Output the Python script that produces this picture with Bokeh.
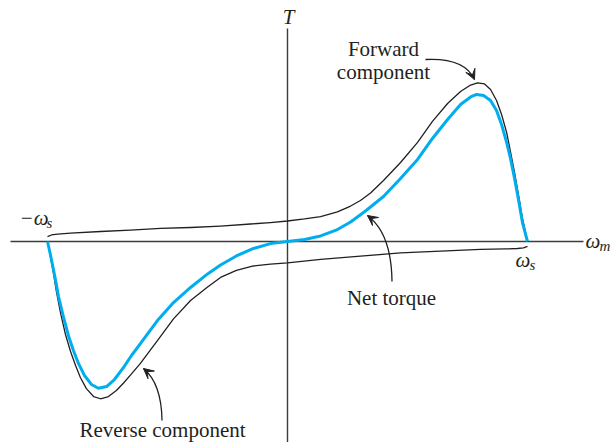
from bokeh.plotting import figure
from bokeh.models import Range1d, Label, Arrow, VeeHead
from bokeh.embed import file_html
from bokeh.resources import INLINE

# ---- data: speed normalised to synchronous speed, torque normalised to forward peak ----
net_w = [-1.000, -0.988, -0.971, -0.954, -0.933, -0.913, -0.892, -0.871, -0.846, -0.817,
         -0.788, -0.754, -0.721, -0.683, -0.650, -0.613, -0.542, -0.475, -0.404, -0.333,
         -0.279, -0.213, -0.142, -0.071, 0.000, 0.071, 0.138, 0.208, 0.263, 0.325,
         0.400, 0.471, 0.542, 0.604, 0.667, 0.721, 0.763, 0.788, 0.817, 0.846,
         0.871, 0.892, 0.913, 0.929, 0.946, 0.963, 0.979, 1.000]
net_T = [0.000, -0.082, -0.208, -0.346, -0.478, -0.591, -0.686, -0.767, -0.843, -0.899,
         -0.923, -0.912, -0.868, -0.792, -0.717, -0.642, -0.497, -0.384, -0.289, -0.204,
         -0.148, -0.091, -0.044, -0.013, 0.000, 0.013, 0.035, 0.075, 0.123, 0.192,
         0.283, 0.396, 0.516, 0.648, 0.767, 0.862, 0.909, 0.925, 0.918, 0.887,
         0.824, 0.736, 0.623, 0.522, 0.396, 0.258, 0.119, 0.000]

fwd_w = [-1.000, -0.983, -0.958, -0.904, -0.779, -0.654, -0.529, -0.404, -0.279, -0.154,
         -0.071, 0.000, 0.071, 0.138, 0.208, 0.263, 0.304, 0.346, 0.400, 0.471,
         0.542, 0.604, 0.667, 0.721, 0.763, 0.792, 0.821, 0.846, 0.871, 0.892,
         0.913, 0.929, 0.946, 0.963, 0.979, 1.000]
fwd_T = [0.031, 0.041, 0.047, 0.053, 0.063, 0.072, 0.082, 0.088, 0.097, 0.110,
         0.119, 0.129, 0.142, 0.157, 0.186, 0.223, 0.258, 0.305, 0.384, 0.497,
         0.623, 0.755, 0.868, 0.943, 0.984, 0.998, 0.991, 0.956, 0.887, 0.799,
         0.686, 0.566, 0.434, 0.289, 0.145, 0.000]

rev_w = [-1.000, -0.988, -0.975, -0.963, -0.946, -0.925, -0.904, -0.883, -0.863, -0.838,
         -0.808, -0.779, -0.746, -0.713, -0.683, -0.650, -0.613, -0.542, -0.475, -0.404,
         -0.333, -0.279, -0.213, -0.142, -0.071, 0.000, 0.138, 0.304, 0.471, 0.638,
         0.804, 0.908, 0.958, 0.983, 1.000]
rev_T = [0.000, -0.094, -0.201, -0.314, -0.447, -0.585, -0.692, -0.780, -0.855, -0.925,
         -0.975, -0.989, -0.975, -0.937, -0.890, -0.833, -0.767, -0.623, -0.487, -0.371,
         -0.286, -0.226, -0.182, -0.154, -0.142, -0.134, -0.113, -0.092, -0.072, -0.060,
         -0.050, -0.047, -0.044, -0.040, -0.031]

# ---- layout ----
W, H = 614, 442
OX, OY = 287, 241          # page position of the origin
SX, SY = 240.0, 159.0      # pixels per unit

def X(px):
    return (px - OX) / SX

def Y(py):
    return (OY - py) / SY

INK = "#231F20"
CYAN = "#00AEEF"
AXIS = "#3C3C3C"
FONT = "Liberation Serif"
TXT_SHIFT = 6   # labels render slightly below their anchor

p = figure(width=W, height=H, output_backend="svg", toolbar_location=None,
           x_range=Range1d(X(0), X(W)), y_range=Range1d(Y(H), Y(0)),
           x_axis_type=None, y_axis_type=None, min_border=0)
p.grid.visible = False
p.outline_line_color = None
p.background_fill_color = "white"
p.border_fill_color = "white"

# axes
p.line([X(10), X(583)], [0, 0], line_color=AXIS, line_width=1.4)
p.line([0, 0], [Y(28), Y(450)], line_color=AXIS, line_width=1.4)

# curves
p.line(fwd_w, fwd_T, line_color=INK, line_width=1.3, line_join="round")
p.line(rev_w, rev_T, line_color=INK, line_width=1.3, line_join="round")
p.line(net_w, net_T, line_color=CYAN, line_width=3.0, line_join="round")

# text labels
def lab(px, py, text, size="21px", style="normal", align="left"):
    p.add_layout(Label(x=X(px), y=Y(py - TXT_SHIFT), text=text, text_font=FONT,
                       text_font_size=size, text_font_style=style,
                       text_color=INK, text_align=align, text_baseline="alphabetic"))

lab(288, 22, "T", style="italic", align="center")
lab(19, 223, "\u2212\u03c9", style="italic")
lab(46, 228, "s", size="15px", style="italic")
lab(515, 265, "\u03c9", style="italic")
lab(529, 270, "s", size="15px", style="italic")
lab(585, 246, "\u03c9", style="italic")
lab(599, 251, "m", size="15px", style="italic")
lab(383, 54, "Forward", align="center")
lab(383, 77, "component", align="center")
lab(391, 303, "Net torque", align="center")
lab(162, 435, "Reverse component", align="center")

# curved pointer arrows (tail, control, tip) in page pixels
pointers = [((425, 59), (464, 57), (474, 79)),
            ((391.5, 281), (391, 233), (367, 215)),
            ((161.5, 420), (161, 383), (143, 368))]
for (tx, ty), (cx, cy), (hx, hy) in pointers:
    p.quadratic(x0=[X(tx)], y0=[Y(ty)], x1=[X(hx)], y1=[Y(hy)],
                cx=[X(cx)], cy=[Y(cy)], line_color=INK, line_width=1.3)
    dx, dy = hx - cx, hy - cy
    n = (dx * dx + dy * dy) ** 0.5
    sx, sy = hx - 4 * dx / n, hy - 4 * dy / n
    p.add_layout(Arrow(end=VeeHead(size=10, fill_color=INK, line_color=INK, line_width=1),
                       x_start=X(sx), y_start=Y(sy), x_end=X(hx), y_end=Y(hy),
                       line_color=INK, line_width=1.3))

open("out.html", "w").write(file_html(p, INLINE))
